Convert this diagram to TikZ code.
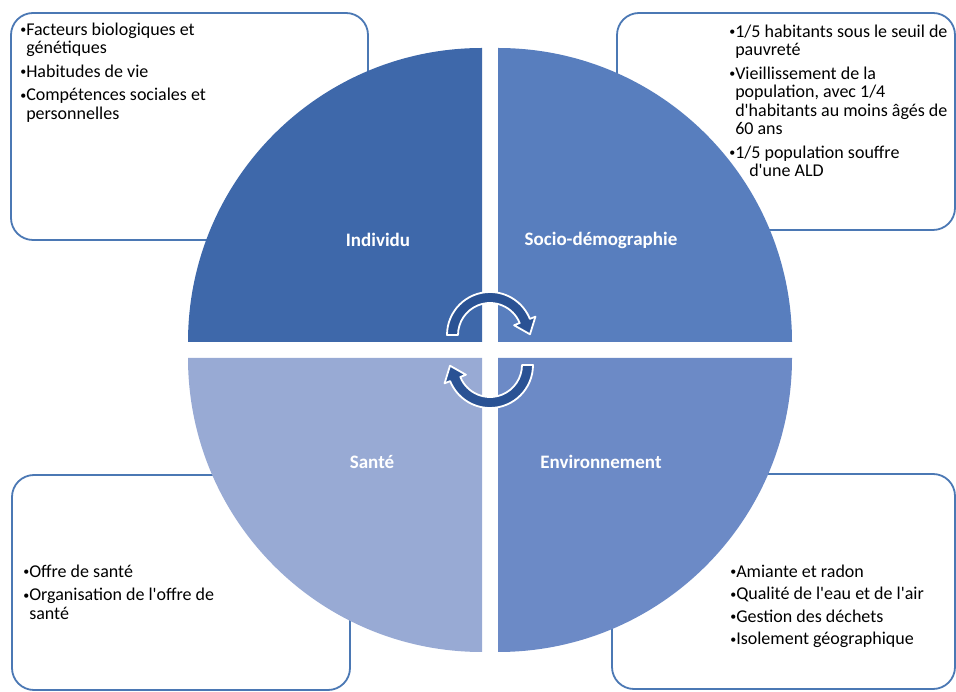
\documentclass[tikz,border=0pt]{standalone}
\usepackage{fontspec}
\setmainfont{Carlito}[Ligatures=TeXOff]
\usetikzlibrary{positioning, calc}
\definecolor{boxline}{RGB}{75,120,180}
\definecolor{quadInd}{RGB}{62,104,170}
\definecolor{quadSoc}{RGB}{88,126,190}
\definecolor{quadEnv}{RGB}{108,138,198}
\definecolor{quadSan}{RGB}{152,170,212}
\definecolor{turnblue}{RGB}{42,82,148}
\newcommand{\dotitem}{\raisebox{1.5pt}{\fontsize{12}{12}\selectfont\textbullet}\hspace{1.5pt}}
\tikzset{
x=1pt, y=1pt, % one unit is one pixel of the page
infobox/.style={draw=boxline, line width=1.8pt, rounded corners=22pt, fill=white}, % the four text panels
itemlist/.style={inner sep=0pt, font=\fontsize{18}{18.5}\selectfont, text=black}, % bullet lists
quadlabel/.style={text=white, font=\fontsize{19}{22}\selectfont\bfseries}, % names of the quarters
turn/.style={fill=turnblue, draw=white, line width=1.8pt, line join=round}, % the two bent arrows
}

\begin{document}
\begin{tikzpicture}
    \useasboundingbox (0,0) rectangle (956,691);
    % panels behind the disc
    \node[infobox, minimum width=357pt, minimum height=227pt] (boxInd) at (189.5,564.5) {};
    \node[infobox, minimum width=338pt, minimum height=217pt] (boxSoc) at (786,569.5) {};
    \node[infobox, minimum width=338pt, minimum height=215pt] (boxSan) at (181,108.5) {};
    \node[infobox, minimum width=343pt, minimum height=215pt] (boxEnv) at (783.5,109.5) {};
    % the disc in four quarters
    \coordinate (ctr) at (490,341);
    \fill[quadInd] ($(ctr)+(-8,8)$) -- ++(-294,0) arc[start angle=180, end angle=90, radius=294] -- cycle;
    \fill[quadSoc] ($(ctr)+(8,8)$) -- ++(0,294) arc[start angle=90, end angle=0, radius=294] -- cycle;
    \fill[quadEnv] ($(ctr)+(8,-8)$) -- ++(294,0) arc[start angle=0, end angle=-90, radius=294] -- cycle;
    \fill[quadSan] ($(ctr)+(-8,-8)$) -- ++(0,-294) arc[start angle=270, end angle=180, radius=294] -- cycle;
    \node[quadlabel] (individu) at (378,451) {Individu};
    \node[quadlabel] (socio) at (601,451) {Socio-démographie};
    \node[quadlabel] (sante) at (372,229) {Santé};
    \node[quadlabel] (environ) at (601,229) {Environnement};
    % bent arrows in the middle
    \coordinate (up) at (490,356);
    \coordinate (dn) at (490,326);
    \filldraw[turn] ($(up)+(180:43)$) arc[start angle=180, end angle=22, radius=43] -- ($(up)+(22:49)$)
        -- ($(up)+(1:40)$) -- ($(up)+(22:26)$) -- ($(up)+(22:32)$) arc[start angle=22, end angle=180, radius=32] -- cycle;
    \filldraw[turn] ($(dn)+(0:43)$) arc[start angle=0, end angle=-158, radius=43] -- ($(dn)+(-158:49)$)
        -- ($(dn)+(-179:40)$) -- ($(dn)+(-158:26)$) -- ($(dn)+(-158:32)$) arc[start angle=-158, end angle=0, radius=32] -- cycle;
    % bullet lists
    \node[itemlist, below right=10pt and 10pt of boxInd.north west] (listInd) {\begin{tabular}{@{}l@{}l@{}}
        \dotitem & Facteurs biologiques et\\
        & génétiques\\[5pt]
        \dotitem & Habitudes de vie\\[5pt]
        \dotitem & Compétences sociales et\\
        & personnelles
    \end{tabular}};
    \node[itemlist, below right=12pt and 113pt of boxSoc.north west] (listSoc) {\begin{tabular}{@{}l@{}l@{}}
        \dotitem & 1/5 habitants sous le seuil de\\
        & pauvreté\\[5pt]
        \dotitem & Vieillissement de la\\
        & population, avec 1/4\\
        & d'habitants au moins âgés de\\
        & 60 ans\\[5pt]
        \dotitem & 1/5 population souffre\\
        & \hspace{14pt}d'une ALD
    \end{tabular}};
    \node[itemlist, below right=90pt and 12pt of boxSan.north west] (listSan) {\begin{tabular}{@{}l@{}l@{}}
        \dotitem & Offre de santé\\[5pt]
        \dotitem & Organisation de l'offre de\\
        & santé
    \end{tabular}};
    \node[itemlist, below right=91pt and 119pt of boxEnv.north west] (listEnv) {\begin{tabular}{@{}l@{}l@{}}
        \dotitem & Amiante et radon\\[4pt]
        \dotitem & Qualité de l'eau et de l'air\\[4pt]
        \dotitem & Gestion des déchets\\[4pt]
        \dotitem & Isolement géographique
    \end{tabular}};
\end{tikzpicture}
\end{document}
